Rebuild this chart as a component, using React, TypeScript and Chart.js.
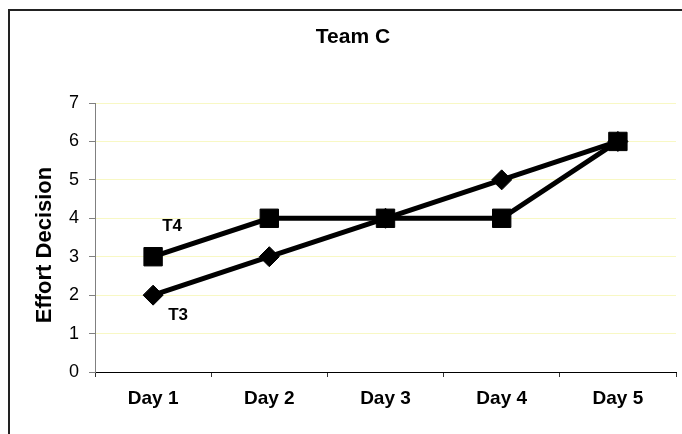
import React, { useEffect, useRef } from "react";
import { Chart, registerables } from "chart.js";

Chart.register(...registerables);

const categories = ["Day 1", "Day 2", "Day 3", "Day 4", "Day 5"];
const t4Values = [3, 4, 4, 4, 6];
const t3Values = [2, 3, 4, 5, 6];
const seriesNames = ["T4", "T3"];
const chartTitle = "Team C";
const yAxisTitle = "Effort Decision";
const yMin = 0;
const yMax = 7;

const FONT = "'Liberation Sans', Arial, sans-serif";

const decorPlugin = {
  id: "decor",
  beforeDraw(chart: any) {
    const ctx = chart.ctx;
    ctx.save();
    ctx.fillStyle = "#ffffff";
    ctx.fillRect(0, 0, chart.width, chart.height);
    ctx.strokeStyle = "#222222";
    ctx.lineWidth = 2;
    ctx.strokeRect(9, 10, chart.width + 50, chart.height + 50);
    ctx.restore();
  },
  afterDraw(chart: any) {
    const ctx = chart.ctx;
    ctx.save();
    ctx.fillStyle = "#000000";
    ctx.textAlign = "center";
    ctx.textBaseline = "middle";
    ctx.font = `bold 21px ${FONT}`;
    ctx.fillText(chartTitle, 353, 37);
    ctx.save();
    ctx.translate(45, 245);
    ctx.rotate(-Math.PI / 2);
    ctx.font = `bold 22px ${FONT}`;
    ctx.fillText(yAxisTitle, 0, 0);
    ctx.restore();
    const offsets = [
      { dx: 19, dy: -30 },
      { dx: 25, dy: 20 },
    ];
    ctx.font = `bold 17px ${FONT}`;
    seriesNames.forEach((name, i) => {
      const meta = chart.getDatasetMeta(i);
      const p = meta.data[0];
      if (!p) return;
      ctx.fillText(name, p.x + offsets[i].dx, p.y + offsets[i].dy);
    });
    ctx.restore();
  },
};

export default function App() {
  const canvasRef = useRef<HTMLCanvasElement | null>(null);

  useEffect(() => {
    if (!canvasRef.current) return;
    const chart = new Chart(canvasRef.current, {
      type: "line",
      data: {
        labels: categories,
        datasets: [
          {
            label: seriesNames[0],
            data: t4Values,
            borderColor: "#000000",
            backgroundColor: "#000000",
            borderWidth: 5,
            pointStyle: "rect",
            pointRadius: 13,
            pointBorderWidth: 1,
            pointBackgroundColor: "#000000",
            pointBorderColor: "#000000",
            tension: 0,
          },
          {
            label: seriesNames[1],
            data: t3Values,
            borderColor: "#000000",
            backgroundColor: "#000000",
            borderWidth: 5,
            pointStyle: "rectRot",
            pointRadius: 10,
            pointBorderWidth: 1,
            pointBackgroundColor: "#000000",
            pointBorderColor: "#000000",
            tension: 0,
          },
        ],
      },
      options: {
        responsive: false,
        animation: false,
        devicePixelRatio: 1,
        layout: { autoPadding: false, padding: { top: 103, right: 6, left: 0, bottom: 0 } },
        plugins: {
          legend: { display: false },
          title: { display: false },
          tooltip: { enabled: false },
        },
        scales: {
          x: {
            type: "category",
            offset: true,
            afterFit: (s: any) => {
              s.height = 62;
            },
            grid: {
              offset: true,
              drawOnChartArea: false,
              drawTicks: true,
              tickLength: 5,
              tickColor: "#333333",
            },
            border: { color: "#000000", width: 1 },
            ticks: {
              color: "#000000",
              font: { family: FONT, size: 19, weight: "bold" },
              padding: 10,
              maxRotation: 0,
            },
          },
          y: {
            min: yMin,
            max: yMax,
            afterFit: (s: any) => {
              s.width = 95;
            },
            grid: {
              color: (c: any) =>
                c.tick && c.tick.value === 0 ? "rgba(0,0,0,0)" : "#f8f8c4",
              lineWidth: 1,
              tickLength: 6,
              tickColor: "#808080",
            },
            border: { color: "#808080", width: 1 },
            ticks: {
              stepSize: 1,
              color: "#000000",
              font: { family: FONT, size: 18 },
              padding: 10,
            },
          },
        },
      },
      plugins: [decorPlugin],
    });
    return () => chart.destroy();
  }, []);

  return (
    <div
      style={{
        position: "fixed",
        left: 0,
        top: 0,
        width: 682,
        height: 434,
        background: "#ffffff",
      }}
    >
      <canvas ref={canvasRef} width={682} height={434} style={{ display: "block" }} />
    </div>
  );
}
